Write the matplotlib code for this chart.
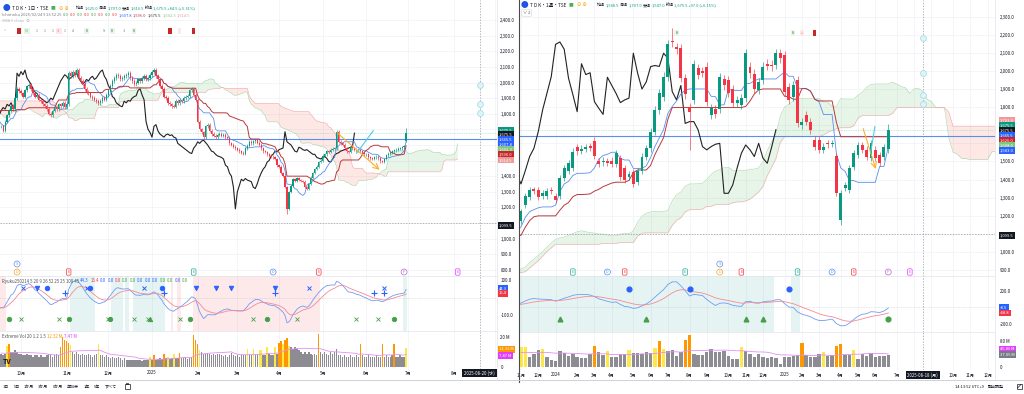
import numpy as np
import pandas as pd
import matplotlib
matplotlib.use("Agg")
import matplotlib.pyplot as plt
from matplotlib import transforms
from matplotlib.lines import Line2D
from matplotlib.patches import Rectangle

plt.rcParams['font.family'] = ['Noto Sans CJK JP', 'DejaVu Sans']

# ---------------- daily chart (left) ----------------
d_start = "2024-09-17"
# closes before the visible range (only feed the ichimoku / oscillator)
d_pre_close = [1800, 1820, 1850, 1840, 1870, 1900,
               1920, 1950, 1940, 1980, 2000, 1990, 1970, 2010, 2030, 2020, 2050, 2040, 2060, 2080,
               2070, 2090, 2100, 2080, 2110, 2130,
               2150, 2170, 2200, 2180, 2210, 2190, 2160, 2140, 2120, 2100, 2080, 2050, 2000, 1980,
               1990, 1960, 1940, 1920, 1900, 1880, 1910, 1890, 1850,
               1800, 1700, 1550, 1650, 1700, 1720, 1760, 1790, 1810, 1830, 1850, 1880, 1900, 1920,
               1910, 1930, 1950, 1940, 1920, 1900, 1910, 1880,
               1850, 1820, 1780, 1760, 1740, 1720, 1700, 1690, 1710, 1730, 1720]
d_close_sep = [1720, 1690, 1750, 1790, 1820, 1850, 1830, 1900, 1960, 1945]
d_close_oct = [1930, 1910, 1950, 1975, 1985, 1960, 1930, 1910, 1920, 1890, 1880, 1860, 1850, 1830,
               1800, 1790, 1820, 1840, 1830, 1860, 1850, 1870, 1840]
d_close_nov = [1860, 2060, 2040, 2070, 2050, 2080, 2030, 2010, 1990, 1960, 1940, 1930, 1910, 1900,
               1890, 1880, 1870, 1880, 1900, 1890, 1920]
d_close_dec = [1950, 1980, 2010, 2030, 2050, 2040, 2020, 2030, 2040, 2050, 2060, 2030, 2010, 1990,
               2000, 2020, 2010, 2030, 2040, 2020, 2030, 2050]
d_close_jan = [2070, 2080, 2040, 2020, 1980, 1960, 1910, 1900, 1870, 1860, 1850, 1845, 1880, 1870,
               1885, 1880, 1900, 1910, 1915, 1950, 1960, 1920, 1890]
d_close_feb = [1750, 1700, 1680, 1650, 1720, 1730, 1690, 1670, 1660, 1650, 1665, 1670, 1660, 1665,
               1650, 1645, 1610, 1600, 1590, 1580]
d_close_mar = [1570, 1560, 1550, 1545, 1580, 1595, 1620, 1610, 1625, 1630, 1615, 1600, 1580, 1560,
               1555, 1540, 1530, 1525, 1520, 1510, 1470]
d_close_apr = [1460, 1420, 1400, 1330, 1190, 1300, 1340, 1380, 1370, 1385, 1375, 1370, 1365, 1330,
               1320, 1350, 1390, 1420, 1445, 1460, 1490, 1500]
d_close_may = [1530, 1540, 1560, 1555, 1570, 1575, 1580, 1685, 1620, 1610, 1600, 1580, 1560, 1555,
               1585, 1580, 1570, 1565, 1570, 1560, 1550, 1540]
d_close_jun = [1540, 1520, 1515, 1510, 1520, 1525, 1515, 1495, 1490, 1510, 1535, 1545, 1550, 1560,
               1565, 1570, 1575, 1580, 1585, 1591, 1675.5]
d_close = (d_close_sep + d_close_oct + d_close_nov + d_close_dec + d_close_jan + d_close_feb
           + d_close_mar + d_close_apr + d_close_may + d_close_jun)
d_last_open, d_last_high, d_last_low = 1625.0, 1707.0, 1616.5
d_low_fix = {144: 1160}

d_pre_vol = [9, 10, 11, 9, 8, 10, 12, 9, 8, 9, 10, 9, 8, 9, 10, 9, 8, 9, 10, 9]
d_vol = ([9, 8, 9, 14, 15, 10, 10, 11, 10, 9]
         + [9, 8, 8, 9, 8, 8, 7, 8, 8, 7, 8, 7, 7, 8, 9, 8, 7, 8, 9, 8, 13, 19.5, 18]
         + [17, 16, 14.5, 10, 9, 10, 9, 8, 9, 8, 8, 9, 8, 7, 8, 9, 15, 8, 8, 7, 8]
         + [7, 6, 7, 6, 6, 7, 6, 5, 6, 5, 4.5, 5, 4.5, 4.5, 5, 4.5, 5, 4, 4.5, 5, 4.5, 7]
         + [5, 8, 5, 5.5, 6, 5.5, 9, 6, 7, 5.5, 6, 8.5, 6, 6, 9.5, 6, 6, 6.5, 5.5, 6, 7, 21, 18]
         + [15.5, 11, 10, 9, 9, 9.5, 8.5, 8, 9, 8, 8.5, 9, 8, 7.5, 8, 7, 8, 9.5, 8, 7.5]
         + [8, 7, 8, 8, 8, 12, 8, 8, 12, 8, 8, 11, 11, 8, 8, 13, 9, 8, 8, 13, 9]
         + [16, 17, 15, 18, 19, 14, 13, 12, 13, 12, 11, 10, 9, 10, 9, 10, 9, 8, 9, 8, 22, 10]
         + [9, 10, 9, 8, 10, 9, 10, 12, 8, 8, 7, 8, 7, 7, 8, 7, 7, 8, 7, 15, 8, 7]
         + [7, 8, 7, 7, 7, 8, 7, 7, 15, 7, 8, 7, 7, 8, 15, 7, 7, 8, 7, 7, 12.32])

d_price_ticks = [2400, 2300, 2200, 2100, 2000, 1900, 1800, 1400, 1300, 1200, 1000, 900, 800]
d_osc_spans_red = [(0, 2), (86, 86), (89, 90), (97, 136), (137, 160)]
d_osc_spans_green = [(35, 47), (56, 61), (63, 64), (67, 82), (203, 204)]
d_sig_top = [(11, 'x'), (18, 'v'), (23, 'o'), (43, 'x'), (45, 'o'), (72, 'x'), (81, 'o'), (98, 'v'),
             (108, 'v'), (116, 'v'), (138, 'v'), (155, 'x'), (193, 'x')]
d_sig_plus = [32, 82, 138, 188, 193]
d_sig_bot = [(4, 'o'), (10, 'x'), (29, 'x'), (34, 'o'), (54, 'x'), (55, 'o'), (67, 'x'), (74, 'x'),
             (75, '^'), (90, 'x'), (95, 'o'), (127, 'x'), (134, 'o'), (149, 'x'), (179, 'x'),
             (190, 'x'), (198, 'o')]
d_events = [(8, 'D', '#f5a623', 0), (8, 'S', '#5b8def', 1), (34, 'E', '#f23645', 0),
            (97, 'E', '#22ab94', 0), (137, 'D', '#5b8def', 0), (160, 'E', '#f23645', 0),
            (203, 'P', '#ba68c8', 0), (230, 'E', '#e040fb', 0)]
d_notes = [(2, '^', 'white', '#9598a1'), (9, ' ', '#c62828', '#c62828'), (13, '52', '#e8f5e9', '#66bb6a'),
           (18, '1', 'white', '#787b86'), (22, '1', 'white', '#787b86'), (26, '1', 'white', '#787b86'),
           (29, '-1', '#fde7e9', '#e57373'), (32, '1', 'white', '#787b86'), (36, '4', 'white', '#787b86'),
           (43, '8', '#e8f5e9', '#2e7d32'), (52, 'S-', 'white', '#787b86'), (56, '8', '#e8f5e9', '#2e7d32'),
           (62, '-1', 'white', '#787b86'), (67, '8', '#e8f5e9', '#2e7d32'), (85, ' ', '#c62828', '#c62828'),
           (90, ' ', '#fde7e9', '#e57373'), (97, ' ', '#c62828', '#c62828')]
d_arrow = [(168.2, 1690), (191.7, 1429)]
d_cyan = [(179.1, 1547), (187.5, 1692)]
d_alerts = [1985, 1863, 1807]
d_cursor = "2025-08-20"
d_cursor_label = "2025-08-20 (水)"

# ---------------- weekly chart (right) ----------------
w_start = "2023-11-06"
w_pre_close = [900, 880, 860, 840, 820, 830, 850, 870, 890, 910, 930, 950, 940, 920, 900, 880, 860,
               850, 840, 860, 880, 870, 850, 860, 880, 900, 890, 870, 860, 880, 900, 910, 900, 890,
               860, 880, 900, 890, 910, 920, 930, 910, 900, 890, 880, 900, 920, 910, 900, 920, 930,
               930, 940, 960, 1000, 1040, 1080, 1120, 1160, 1200, 1240, 1220, 1200, 1180, 1160,
               1130, 1100, 1080, 1060, 1050, 1070, 1100, 1120, 1140, 1160, 1180, 1150, 1170]
w_open = [1170, 1258, 1305, 1345, 1342, 1310, 1308, 1340, 1309, 1310,
          1407, 1449, 1462, 1578, 1560, 1570, 1585, 1615, 1500, 1495,
          1500, 1505, 1486, 1518, 1462, 1416, 1439, 1388, 1449, 1527,
          1573, 1665, 1784, 1858, 1968, 2165, 2130, 2125, 1960, 1800,
          1840, 2015, 2000, 2024, 1757, 1790, 1790, 1955, 1950, 1900,
          1822, 1810, 1850, 2024, 1985, 1895, 1950, 2040, 2035, 2033,
          2098, 2087, 1912, 1858, 1950, 1702, 1757, 1720, 1619, 1619,
          1564, 1600, 1598, 1530, 1177, 1352, 1342, 1472, 1536, 1591,
          1564, 1518, 1564, 1536, 1527, 1568.5]
w_close = [1225, 1309, 1342, 1338, 1305, 1325, 1335, 1336, 1287, 1407,
           1462, 1490, 1554, 1556, 1570, 1580, 1575, 1530, 1487, 1505,
           1490, 1485, 1545, 1416, 1398, 1431, 1376, 1449, 1527, 1573,
           1665, 1784, 1876, 1968, 2147, 2160, 2120, 1960, 1870, 1775,
           2040, 1980, 1990, 1830, 1794, 1760, 1965, 1920, 1876, 1825,
           1840, 1850, 2098, 1987, 1900, 1940, 2024, 2030, 2025, 2098,
           2070, 1886, 1840, 1920, 1710, 1720, 1720, 1674, 1582, 1564,
           1582, 1595, 1600, 1324, 1324, 1370, 1462, 1545, 1591, 1564,
           1527, 1600, 1518, 1490, 1578.5, 1675.5]
w_high_fix = {35: 2236, 40: 2060, 85: 1707}
w_low_fix = {39: 1565, 74: 1150, 85: 1547}
w_pre_vol = [45, 48, 40, 42, 50, 44, 38, 41, 46, 43, 40, 45, 47, 42, 39, 44, 48, 43, 41, 46]
w_vol = [60, 62, 30, 40, 52, 55, 30, 22, 19, 50,
         42, 34, 40, 30, 29, 29, 41, 64, 46, 37,
         50, 30, 32, 41, 40, 52, 42, 42, 41, 45,
         42, 58, 78, 55, 50, 52, 34, 46, 83, 97,
         41, 37, 38, 45, 55, 46, 45, 48, 34, 26,
         26, 62, 50, 41, 30, 40, 32, 29, 30, 27,
         10, 32, 32, 34, 37, 72, 37, 32, 32, 40,
         47, 34, 37, 64, 69, 37, 37, 52, 24, 40,
         34, 44, 32, 35, 35, 37.05]
w_price_ticks = [2300, 2200, 2100, 2000, 1900, 1800, 1500, 1400, 1300, 1200, 1000, 900]
w_osc_spans_green = [(0, 58), (63, 64)]
w_sig_top = [25, 39, 62]
w_sig_bot = [(9, '^'), (29, '^'), (52, '^'), (56, '^'), (85, 'o')]
w_events = [(12, 'E', '#22ab94', 0), (20, 'D', '#5b8def', 0), (24, 'E', '#f23645', 0),
            (38, 'E', '#22ab94', 0), (46, 'D', '#f5a623', 0), (46, 'S', '#5b8def', 1),
            (51, 'E', '#f23645', 0), (64, 'E', '#22ab94', 0), (72, 'D', '#5b8def', 0),
            (77, 'E', '#f23645', 0), (85, 'P', '#ba68c8', 0), (90, 'E', '#e040fb', 0)]
w_notes = [(36, '8', '#e8f5e9', '#2e7d32'), (63, '8', '#e8f5e9', '#2e7d32'),
           (65, '+', '#fde7e9', '#e57373'), (68, ' ', '#c62828', '#c62828')]
w_arrow = [(79, 1696), (82.3, 1444)]
w_cyan = [(80.9, 1545), (81.9, 1692)]
w_alerts = [2184, 1991, 1867, 1816]
w_cursor = "2025-08-18"
w_cursor_label = "2025-08-18 (月)"

h_line = 1640
cursor_price = 1099.5

UP, DN = '#089981', '#f23645'
GRID = '#f0f2f6'
TXT = '#131722'

W, H = 1024, 394
fig = plt.figure(figsize=(W / 100, H / 100), dpi=100)


def pane(x0, y0, x1, y1, z=0):
    ax = fig.add_axes([x0 / W, 1 - y1 / H, (x1 - x0) / W, (y1 - y0) / H], zorder=z)
    for s in ax.spines.values():
        s.set_visible(False)
    ax.set_xticks([])
    ax.yaxis.tick_right()
    ax.tick_params(axis='y', length=0, labelsize=3.2, labelcolor=TXT)
    return ax


def ema(a, n):
    return pd.Series(a).ewm(span=n, adjust=False).mean().values


def mid(h, l, n):
    return ((pd.Series(h).rolling(n).max() + pd.Series(l).rolling(n).min()) / 2).values


def ftext(x, y, s, **kw):
    kw.setdefault('va', 'center')
    return fig.text(x / W, 1 - y / H, s, **kw)


def chain(x, y, parts, size=3.0, gap=1.2, z=3):
    r = fig.canvas.get_renderer()
    for s, c in parts:
        t = ftext(x, y, s, color=c, fontsize=size, ha='left', zorder=z)
        x += t.get_window_extent(r).width + gap
    return x


def tag(x, y, s, fc, tc='white'):
    ftext(x, y, s, fontsize=3.0, color=tc, ha='left', zorder=4,
          bbox=dict(boxstyle='square,pad=0.3', fc=fc, ec='none'))


def price_pane(ax, xs, o, h, l, c, width, shift=26):
    ten, kij = mid(h, l, 9), mid(h, l, 26)
    a, b = (ten + kij) / 2, mid(h, l, 52)
    xl = xs + shift
    ax.fill_between(xl, a, b, where=a >= b, interpolate=True, color='#4caf50', alpha=0.13, lw=0, zorder=1)
    ax.fill_between(xl, a, b, where=a < b, interpolate=True, color='#f44336', alpha=0.12, lw=0, zorder=1)
    ax.plot(xl, a, color='#a5d6a7', lw=0.4, zorder=1)
    ax.plot(xl, b, color='#f4a5a5', lw=0.4, zorder=1)
    ax.plot(xs - shift, c, color='#222222', lw=0.8, zorder=3)
    ax.plot(xs, ten, color='#5b8def', lw=0.6, zorder=3)
    ax.plot(xs, kij, color='#b83a3a', lw=0.7, zorder=3)
    v = xs >= 0
    col = np.where(c[v] >= o[v], UP, DN)
    ax.vlines(xs[v], l[v], h[v], colors=col, lw=0.45, zorder=4)
    body = np.maximum(np.abs(c[v] - o[v]), 3.0)
    ax.bar(xs[v], body, bottom=np.minimum(o[v], c[v]), width=width, color=col, lw=0, zorder=5)


def osc_pane(ax, xs, c):
    m = ema(c, 5) - ema(c, 20)
    s = ema(m, 9)
    ax.axhline(0, color='#b2b5be', lw=0.4, ls=(0, (1, 2)))
    ax.plot(xs, m, color='#6f9cf7', lw=0.6, zorder=3)
    ax.plot(xs, s, color='#f58a92', lw=0.6, zorder=3)


def vol_pane(ax, pre_v, v, width):
    allv = np.array(pre_v + v, float)
    avg = pd.Series(allv).rolling(20, min_periods=1).mean().values[len(pre_v):]
    vv = np.array(v, float)
    r = vv / avg
    col = np.where(r >= 1.5, '#ff9800', np.where(r >= 1.2, '#fde84a', '#8c8c92'))
    x = np.arange(len(v))
    ax.bar(x, vv, width=width, color=col, lw=0, zorder=2)
    ax.plot(x, avg, color='#e58ef3', lw=0.6, zorder=3)


def month_ticks(dates, xlim, first=False):
    out = []
    for i in range(len(dates)):
        if i > xlim[1]:
            break
        if (i == 0 and first) or (i > 0 and dates[i].month != dates[i - 1].month):
            m = dates[i].month
            out.append((i, str(dates[i].year) if m == 1 else f'{m}月'))
    return out


def date_axis(ax, months, cur_i, cur_label, ypx, to_px):
    tr = transforms.blended_transform_factory(ax.transData, fig.transFigure)
    for i, s in months:
        if abs(to_px(i) - to_px(cur_i)) < 22:
            continue  # hidden under the cursor date box
        ax.text(i, 1 - ypx / H, s, transform=tr, ha='center', va='center', fontsize=3.1, color=TXT)
    ax.text(cur_i, 1 - ypx / H, cur_label, transform=tr, ha='center', va='center', fontsize=3.1,
            color='white', bbox=dict(boxstyle='square,pad=0.4', fc='#131722', ec='none'))


def events(ax, evs):
    tr = transforms.blended_transform_factory(ax.transData, fig.transFigure)
    for i, s, col, row in evs:
        y = 1 - (272 if row == 0 else 264) / H
        style = 'round,pad=0.3' if s == 'E' else 'circle,pad=0.25'
        ax.text(i, y, s, transform=tr, ha='center', va='center', fontsize=2.8, color=col,
                bbox=dict(boxstyle=style, fc='white', ec=col, lw=0.5), zorder=6)


def notes(ax, nts, ypx):
    tr = transforms.blended_transform_factory(ax.transData, fig.transFigure)
    for i, s, fc, tc in nts:
        ax.text(i, 1 - ypx / H, s, transform=tr, ha='center', va='center', fontsize=2.6, color=tc,
                bbox=dict(boxstyle='square,pad=0.35', fc=fc, ec='none'), zorder=6)


def icon_box(x, y, w, h, z=4):
    fig.add_artist(Rectangle((x / W, 1 - (y + h) / H), w / W, h / H, transform=fig.transFigure,
                             fc='none', ec=TXT, lw=0.5, zorder=z))


# ======================= LEFT (daily) =======================
n_pre = len(d_pre_close)
dc = np.array(d_pre_close + d_close, float)
do = np.r_[dc[0], dc[:-1]]
dh = np.maximum(do, dc) * 1.006
dl = np.minimum(do, dc) * 0.994
do[-1], dh[-1], dl[-1] = d_last_open, d_last_high, d_last_low
for i, v in d_low_fix.items():
    dl[n_pre + i] = v
dxs = np.arange(-n_pre, len(d_close))
d_xlim = (-0.58, 249.8)
d_dates = pd.bdate_range(d_start, periods=len(d_close) + 50)
d_months = month_ticks(d_dates, d_xlim)
d_cur_i = int(np.searchsorted(d_dates, pd.Timestamp(d_cursor)))

axL = pane(0, 0, 497, 276)
oscL = pane(0, 276, 497, 331)
volL = pane(0, 331, 497, 372)
for ax in (axL, oscL, volL):
    ax.set_xlim(*d_xlim)
    ax.tick_params(axis='y', pad=2.4)
    for i, _ in d_months:
        ax.axvline(i, color=GRID, lw=0.5, zorder=0)
axL.set_ylim(760, 2529)
oscL.set_ylim(-191.4, 122.9)
volL.set_ylim(-3.07, 23.7)
axL.set_yticks(d_price_ticks, [f'{p:,.1f}' for p in d_price_ticks])
for p in range(800, 2500, 100):
    axL.axhline(p, color=GRID, lw=0.5, zorder=0)
oscL.set_yticks([100, -100], ['100.0', '-100.0'])
volL.set_yticks([20, 0], ['20 M', '0'])

price_pane(axL, dxs, do, dh, dl, dc, 0.62)
axL.axhline(h_line, color='#5b8def', lw=0.8, zorder=2)
axL.axhline(d_close[-1], color='#8fd4b4', lw=0.5, ls=(0, (1, 1.5)), zorder=2)
axL.axhline(cursor_price, color='#9598a1', lw=0.5, ls=(0, (2, 2)), zorder=2)
for ax in (axL, oscL, volL):
    ax.axvline(d_cur_i, color='#9598a1', lw=0.5, ls=(0, (2, 2)), zorder=2)
axL.annotate('', xy=d_arrow[1], xytext=d_arrow[0],
             arrowprops=dict(arrowstyle='->', color='#f7b12a', lw=0.8), zorder=6)
axL.plot(*zip(*d_cyan), color='#4dd0e1', lw=0.8, zorder=6)
axL.plot([d_cur_i] * len(d_alerts), d_alerts, 'o', ms=4.2, mfc='#def4f8', mec='#a8dde8', mew=0.6, zorder=6)
events(axL, d_events)
notes(axL, d_notes, 31)

osc_pane(oscL, dxs, dc)
for a, b in d_osc_spans_red:
    oscL.axvspan(a - 0.5, b + 0.5, color='#f23645', alpha=0.11, lw=0, zorder=0)
for a, b in d_osc_spans_green:
    oscL.axvspan(a - 0.5, b + 0.5, color='#089981', alpha=0.1, lw=0, zorder=0)
bl = transforms.blended_transform_factory(oscL.transData, oscL.transAxes)
for i, m in d_sig_top:
    oscL.plot(i, 0.78, marker=m, ms=3.2, color='#2962ff', mew=0.7, transform=bl, zorder=5)
for i in d_sig_plus:
    oscL.plot(i, 0.69, marker='+', ms=5, color='#2962ff', mew=0.8, transform=bl, zorder=5)
for i, m in d_sig_bot:
    oscL.plot(i, 0.22, marker=m, ms=3.2, color='#43a047', mew=0.6, transform=bl, zorder=5)
vol_pane(volL, d_pre_vol, d_vol, 0.7)
date_axis(volL, d_months, d_cur_i, d_cursor_label, 373, lambda i: 1.15 + 1.985 * i)

# ======================= RIGHT (weekly) =======================
fig.add_artist(Rectangle((519 / W, 0), 1 - 519 / W, 1, transform=fig.transFigure,
                         fc='white', ec='none', zorder=0.5))
n_wpre = len(w_pre_close)
wc = np.array(w_pre_close + w_close, float)
wo = np.r_[wc[0], wc[:-1]]
wo[n_wpre:] = w_open
wh = np.maximum(wo, wc) * 1.012
wl = np.minimum(wo, wc) * 0.988
for i, v in w_high_fix.items():
    wh[n_wpre + i] = v
for i, v in w_low_fix.items():
    wl[n_wpre + i] = v
wxs = np.arange(-n_wpre, len(w_close))
w_xlim = (-0.46, 109.7)
w_dates = pd.date_range(w_start, periods=len(w_close) + 30, freq='W-MON')
w_months = month_ticks(w_dates, w_xlim, first=True)
w_cur_i = int(np.searchsorted(w_dates, pd.Timestamp(w_cursor)))

axR = pane(519, 0, 995, 276, 1)
oscR = pane(519, 276, 995, 332, 1)
volR = pane(519, 332, 995, 370, 1)
for ax in (axR, oscR, volR):
    ax.set_xlim(*w_xlim)
    ax.tick_params(axis='y', pad=3.6)
    for i, _ in w_months:
        ax.axvline(i, color=GRID, lw=0.5, zorder=0)
axR.set_ylim(867, 2392)
oscR.set_ylim(-297, 381.8)
volR.set_ylim(-8.1, 106.2)
axR.set_yticks(w_price_ticks, [f'{p:,.1f}' for p in w_price_ticks])
for p in range(900, 2400, 100):
    axR.axhline(p, color=GRID, lw=0.5, zorder=0)
oscR.set_yticks([200, -200], ['200.0', '-200.0'])
volR.set_yticks([80, 0], ['80 M', '0'])

price_pane(axR, wxs, wo, wh, wl, wc, 0.68)
axR.axhline(h_line, color='#5b8def', lw=0.8, zorder=2)
axR.axhline(w_close[-1], color='#8fd4b4', lw=0.5, ls=(0, (1, 1.5)), zorder=2)
axR.axhline(cursor_price, color='#9598a1', lw=0.5, ls=(0, (2, 2)), zorder=2)
for ax in (axR, oscR, volR):
    ax.axvline(w_cur_i, color='#9598a1', lw=0.5, ls=(0, (2, 2)), zorder=2)
axR.annotate('', xy=w_arrow[1], xytext=w_arrow[0],
             arrowprops=dict(arrowstyle='->', color='#f7b12a', lw=0.8), zorder=6)
axR.plot(*zip(*w_cyan), color='#4dd0e1', lw=0.8, zorder=6)
axR.plot([w_cur_i] * len(w_alerts), w_alerts, 'o', ms=4.2, mfc='#def4f8', mec='#a8dde8', mew=0.6, zorder=6)
events(axR, w_events)
notes(axR, w_notes, 33)

osc_pane(oscR, wxs, wc)
for a, b in w_osc_spans_green:
    oscR.axvspan(a - 0.5, b + 0.5, color='#089981', alpha=0.1, lw=0, zorder=0)
br = transforms.blended_transform_factory(oscR.transData, oscR.transAxes)
for i in w_sig_top:
    oscR.plot(i, 0.77, marker='o', ms=3.4, color='#2962ff', transform=br, zorder=5)
for i, m in w_sig_bot:
    oscR.plot(i, 0.23, marker=m, ms=3.4, color='#43a047', transform=br, zorder=5)
vol_pane(volR, w_pre_vol, w_vol, 0.78)
date_axis(volR, w_months, w_cur_i, w_cursor_label, 375, lambda i: 521 + 4.32 * i)

# ======================= frame lines =======================
for y0 in (276, 331):
    fig.add_artist(Line2D([0, 497 / W], [1 - y0 / H] * 2, color='#e0e3eb', lw=0.5))
for y0 in (276, 332):
    fig.add_artist(Line2D([519 / W, 995 / W], [1 - y0 / H] * 2, color='#e0e3eb', lw=0.5, zorder=2))
fig.add_artist(Line2D([497 / W] * 2, [1 - 379 / H, 1], color='#e0e3eb', lw=0.5))
fig.add_artist(Line2D([995 / W] * 2, [1 - 379 / H, 1], color='#e0e3eb', lw=0.5, zorder=2))
fig.add_artist(Line2D([518.5 / W] * 2, [1 - 382 / H, 1], color='#4a4a4a', lw=0.8, zorder=2))
fig.add_artist(Line2D([0, 1], [1 - 379.5 / H] * 2, color='#c8cbd3', lw=0.6, zorder=2))

# ======================= texts =======================
ftext(6, 8, '●', color='#1e53e5', fontsize=5.5, ha='center')
x = chain(12, 8, [('T D K・1日・TSE', TXT)], size=3.4)
ftext(x + 1, 8, '■', color='#4caf50', fontsize=3.4, ha='left')
x = chain(x + 9, 8, [('⊖ ⊕', '#f5a623')], size=3.2)
chain(max(x + 3, 76), 8, [('始値', TXT), ('1,625.0', UP), ('高値', TXT), ('1,707.0', UP), ('安値', TXT),
                          ('1,616.5', UP), ('終値', TXT), ('1,675.5 +84.5 (+5.31%)', UP)], size=2.9, gap=0.6)
chain(2, 15, [('Ichimoku 2025/02/24 9 26 52 25', '#787b86'), ('0.0', '#43a047'), ('0.0', '#f23645'),
              ('0.0', '#43a047'), ('0.0', '#f23645'), ('0.0', '#43a047'), ('0.0', '#f23645'),
              ('0.0', '#43a047'), ('0.0', '#f23645'), ('1,607.8', '#2962ff'), ('1,596.0', '#b83a3a'),
              ('1,675.5', '#333333'), ('1,602.3', '#81c784'), ('1,514.5', '#ef9a9a')], size=2.9, gap=1.1)
chain(2, 21, [('SMA 5 close', '#b2b5be'), ('⊙', '#b2b5be')], size=2.9)
chain(2, 281, [('Ryuku250214 5 20 9 26 52 25 25 100 45', '#555555'), ('44.3', '#2962ff'),
               ('16.4', '#f23645')] + [('0.0', c) for c in ['#2962ff', '#2962ff', '#f23645', '#43a047',
                                                           '#43a047', '#2962ff', '#2962ff', '#2962ff',
                                                           '#43a047', '#43a047', '#2962ff', '#43a047']],
      size=3.1, gap=1.2)
chain(2, 336, [('Extreme Vol 20 1.2 1.5', '#555555'), ('12.32 M', '#ff9800'), ('7.47 M', '#e040fb')],
      size=3.1, gap=1.5)
ftext(3, 362, 'TV', color='#131722', fontsize=5, fontweight='bold', ha='left')

ftext(524, 5, '●', color='#1e53e5', fontsize=5.5, ha='center', zorder=4)
x = chain(530, 5, [('T D K・1週・TSE', TXT)], size=3.4, z=4)
ftext(x + 1, 5, '■', color='#4caf50', fontsize=3.4, ha='left', zorder=4)
x = chain(x + 9, 5, [('⊖ ⊕', '#f5a623')], size=3.2, z=4)
chain(max(x + 3, 597), 5, [('始値', TXT), ('1,568.5', UP), ('高値', TXT), ('1,707.0', UP), ('安値', TXT),
                           ('1,547.0', UP), ('終値', TXT), ('1,675.5 +97.0 (+6.15%)', UP)],
      size=2.9, gap=0.6, z=4)
ftext(523, 13, '∨ 2', color='#555555', fontsize=3.0, ha='left', zorder=4,
      bbox=dict(boxstyle='round,pad=0.3', fc='white', ec='#d1d4dc', lw=0.4))

# price tags
for y, s, c in [(130, '1,675.5', '#089981'), (134.5, '1,675.5', '#131722'), (139.3, '1,665.5', '#2962ff'),
                (144.3, '1,607.8', '#2962ff'), (149.3, '1,602.3', '#81c784'),
                (154.7, '1,596.0', '#c62828'), (160, '1,514.5', '#ef9a9a'), (225.3, '1,099.5', '#131722'),
                (288.7, '44.3', '#2962ff'), (293.5, '16.4', '#f23645'),
                (349.3, '12.32 M', '#ff9800'), (355.7, '7.47 M', '#e040fb')]:
    tag(499, y, s, c)
for y, s, c in [(120, '1,703.0', '#ef9a9a'), (125, '1,675.5', '#089981'), (130, '1,675.5', '#131722'),
                (135, '1,665.5', '#2962ff'), (140, '1,626.0', '#c62828'), (145.7, '1,608.6', '#81c784'),
                (150.7, '1,583.0', '#2962ff'), (235.3, '1,099.5', '#131722'),
                (307.7, '-8.5', '#2962ff'), (313, '-48.8', '#f23645'),
                (349.3, '45.86 M', '#e040fb'), (354.7, '37.05 M', '#787b86')]:
    tag(1000, y, s, c)

# toolbars
chain(3, 386.5, [(s, TXT) for s in ['1日', '5日', '1か月', '3か月', '6か月', '年初来', '1年', '5年', 'すべて']],
      size=2.9, gap=4.2)
icon_box(124.5, 383.5, 5, 5)            # calendar / range icon
icon_box(126, 382.5, 2, 1.2)
chain(955, 386.5, [('14:13:52 UTC+9', TXT), ('配当調整', TXT)], size=2.9, gap=3.5, z=4)
icon_box(1017, 384, 4.5, 4.5)           # expand icon
fig.add_artist(Line2D([1017.5 / W, 1021 / W], [1 - 388 / H, 1 - 384.5 / H], color=TXT, lw=0.5,
                      transform=fig.transFigure, zorder=4))

fig.savefig('out.png', dpi=100, facecolor='white')
